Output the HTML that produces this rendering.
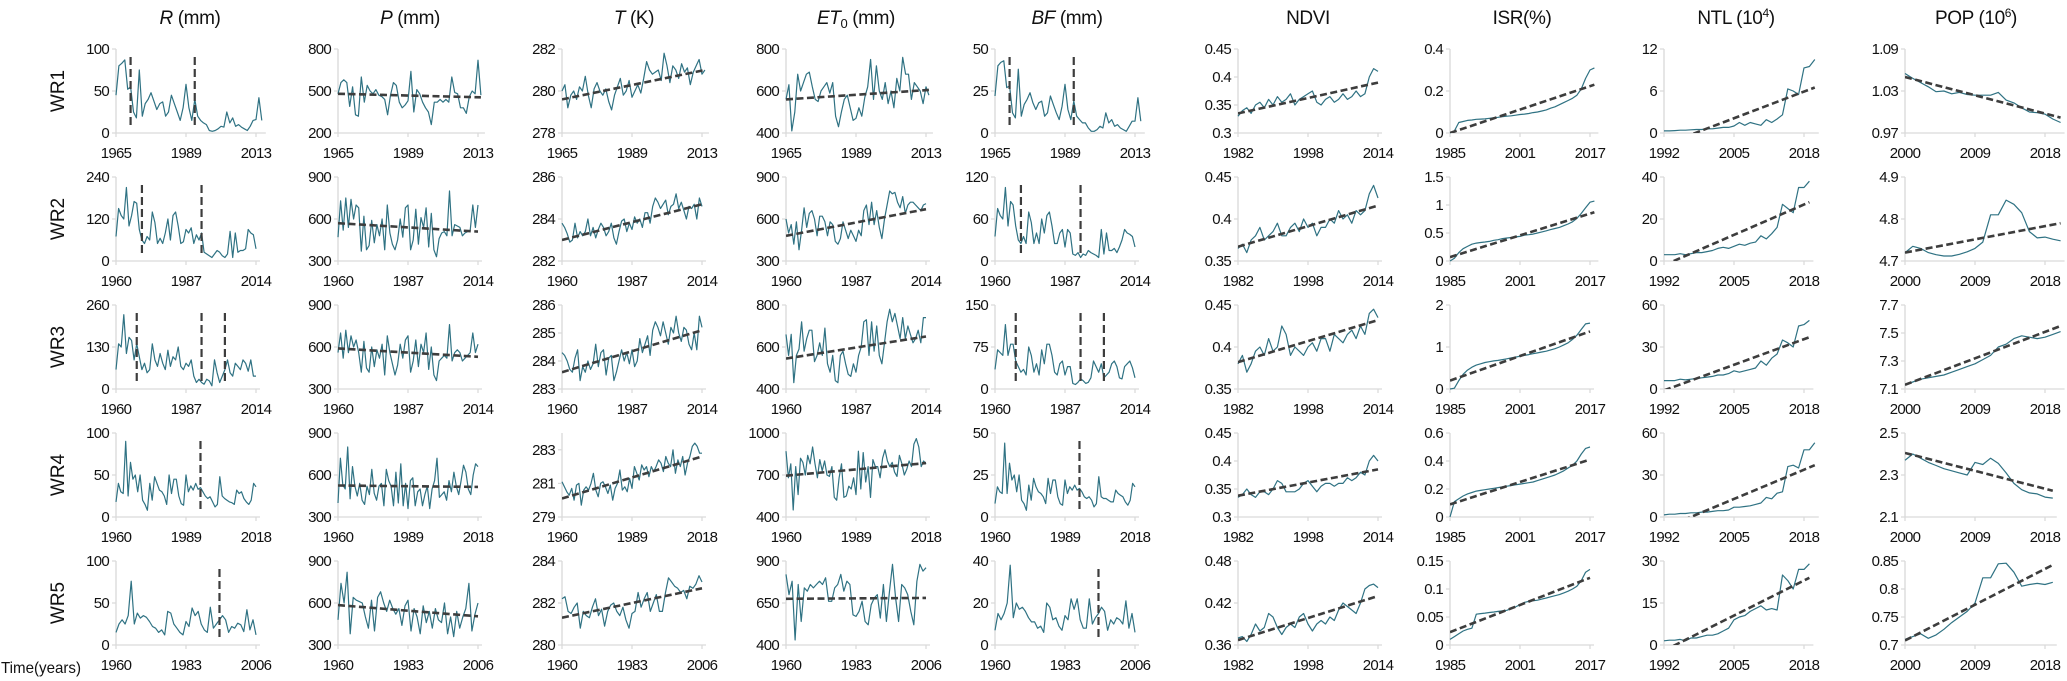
<!DOCTYPE html>
<html><head><meta charset="utf-8">
<style>
html,body{margin:0;padding:0;background:#fff;}
svg{display:block;font-family:"Liberation Sans Narrow","Liberation Sans",sans-serif;}
.tk{letter-spacing:-0.7px;}
</style></head>
<body>
<svg id="chart" width="2067" height="681" viewBox="0 0 2067 681" xmlns="http://www.w3.org/2000/svg">
<defs></defs>
<g id="titles" font-size="19" fill="#111" text-anchor="middle" style="letter-spacing:-0.4px">
<text x="190" y="24"><tspan font-style="italic">R</tspan> (mm)</text>
<text x="410" y="24"><tspan font-style="italic">P</tspan> (mm)</text>
<text x="634" y="24"><tspan font-style="italic">T</tspan> (K)</text>
<text x="856" y="24"><tspan font-style="italic">ET</tspan><tspan font-size="13" dy="4">0</tspan><tspan dy="-4"> (mm)</tspan></text>
<text x="1067" y="24"><tspan font-style="italic">BF</tspan> (mm)</text>
<text x="1308" y="24">NDVI</text>
<text x="1522" y="24">ISR(%)</text>
<text x="1736" y="24">NTL (10<tspan font-size="12" dy="-7">4</tspan><tspan dy="7">)</tspan></text>
<text x="1976" y="24">POP (10<tspan font-size="12" dy="-7">6</tspan><tspan dy="7">)</tspan></text>
</g>
<g font-size="19" fill="#111" text-anchor="middle">
<text transform="translate(64,91) rotate(-90)">WR1</text>
<text transform="translate(64,219) rotate(-90)">WR2</text>
<text transform="translate(64,347) rotate(-90)">WR3</text>
<text transform="translate(64,475) rotate(-90)">WR4</text>
<text transform="translate(64,603) rotate(-90)">WR5</text>
<text x="1" y="673" font-size="16" text-anchor="start" textLength="80" lengthAdjust="spacingAndGlyphs">Time(years)</text>
</g>
<g id="panels"></g>
</svg>
<script>
// ---------- data ----------
const R_WR1=[45,80,83,87,52,55,25,18,75,20,35,40,48,38,28,35,37,20,25,45,35,25,15,30,58,30,15,40,20,15,12,10,3,2,3,5,8,7,25,12,18,8,10,7,5,3,8,15,16,42,15];
const R_WR2=[70,150,130,120,210,100,130,170,165,90,60,50,70,60,140,110,50,65,50,80,120,60,130,140,100,50,55,90,80,95,50,75,60,80,25,20,15,10,20,30,25,15,10,20,85,10,80,25,30,30,35,90,80,75,35];
const R_WR3=[60,140,130,230,110,160,150,90,140,100,60,80,50,60,140,90,70,110,80,60,120,70,100,90,130,70,60,80,70,90,40,20,30,20,15,30,25,10,90,50,20,40,60,90,50,40,80,70,60,90,80,55,90,40,40];
const R_WR4=[18,40,30,28,90,25,65,45,50,30,50,20,15,8,40,20,48,40,32,30,25,15,50,28,45,45,25,16,14,50,30,37,32,40,33,35,30,25,22,24,18,12,15,48,25,22,20,18,17,15,32,28,30,22,18,15,20,40,36];
const R_WR5=[15,25,30,25,35,76,25,38,32,35,33,28,22,20,15,18,12,40,38,25,20,15,12,28,22,44,35,40,25,18,15,45,20,25,30,35,30,15,22,20,26,24,16,42,18,30,12];

const P_WR1=[480,560,580,560,390,530,330,320,600,420,540,500,480,510,470,460,440,330,470,560,540,420,380,400,430,640,350,510,480,420,380,350,260,420,420,440,420,440,420,600,490,480,380,380,340,460,500,480,720,470];
const P_WR2=[470,730,520,750,540,740,600,700,680,370,620,380,410,590,430,560,480,600,380,700,500,420,380,450,600,470,680,700,380,450,670,420,610,540,680,400,640,380,330,460,500,510,480,800,480,560,550,540,480,500,510,520,700,540,700];
const P_WR3=[560,700,520,720,560,680,600,650,560,420,640,450,420,600,460,580,520,620,400,680,560,480,400,470,620,520,650,680,420,500,650,460,620,560,700,440,600,400,360,500,520,540,520,760,500,560,580,560,500,520,540,560,700,560,620];
const P_WR4=[400,720,530,500,800,430,660,520,450,540,420,390,520,460,640,470,420,520,540,380,640,560,520,380,620,400,680,380,540,360,560,580,380,480,500,380,460,520,360,500,560,720,440,460,480,420,560,480,620,520,460,560,670,620,500,460,600,680,660];
const P_WR5=[480,740,600,820,380,640,620,610,600,500,420,620,400,640,680,600,540,620,560,520,560,440,580,620,400,560,500,380,580,460,540,420,560,480,460,600,380,500,360,540,420,500,560,740,400,520,600];

const T_WR1=[280.0,280.3,279.2,279.8,280.0,279.6,280.2,280.0,280.7,279.8,279.2,280.1,280.4,280.0,279.8,280.1,279.5,279.1,279.8,280.2,280.6,279.8,280.0,280.5,279.7,280.0,280.3,279.9,280.6,281.4,281.0,280.8,280.9,281.0,280.5,281.8,281.2,280.4,281.2,281.0,280.6,281.3,280.9,281.1,280.3,280.9,281.2,281.5,280.8,281.0];
const T_WR2=[283.8,283.6,283.3,282.9,283.0,283.8,283.1,283.4,283.2,283.4,284.0,283.2,283.6,283.1,283.5,283.8,283.6,283.2,283.4,283.8,283.1,282.8,283.4,283.9,284.0,283.4,283.8,283.5,284.1,283.8,284.0,283.6,284.3,284.3,283.8,284.6,285.0,284.8,284.5,284.7,284.9,284.2,284.6,284.7,285.2,284.5,284.8,284.4,284.0,284.6,284.5,284.7,284.0,285.0,284.6];
const T_WR3=[284.3,284.2,284.0,283.7,283.6,284.1,284.4,283.3,283.8,283.6,284.0,283.7,283.9,284.6,283.8,284.3,284.4,283.5,284.1,284.2,283.3,283.6,284.0,284.4,284.0,284.3,283.9,284.4,283.8,284.0,284.8,284.3,284.6,284.9,284.2,285.1,285.4,285.2,284.9,285.4,285.0,284.6,285.2,285.0,285.6,285.0,284.7,285.2,285.1,284.6,284.4,285.0,284.4,285.6,285.2];
const T_WR4=[281.1,280.8,280.5,280.3,280.7,280.0,280.9,281.0,279.7,280.6,280.8,280.6,281.0,281.6,280.6,280.2,281.0,281.1,280.8,280.4,280.9,280.0,280.7,281.0,281.8,280.6,280.8,280.5,281.3,280.7,282.0,281.6,281.2,282.1,281.8,282.0,281.4,282.0,281.7,282.0,282.4,282.2,281.7,282.6,282.2,282.0,283.0,281.6,282.4,282.0,282.6,281.5,282.2,282.6,283.2,283.4,283.2,282.8,282.8];
const T_WR5=[282.2,282.3,281.6,281.5,281.8,282.0,280.8,281.6,281.4,281.3,281.8,282.2,281.4,281.7,280.9,281.6,281.9,282.0,281.6,281.4,281.8,281.2,280.8,281.5,281.6,282.5,281.8,282.2,282.5,281.6,282.0,282.4,281.6,281.6,282.5,283.2,283.0,282.8,282.7,282.5,282.6,282.2,282.8,282.7,282.9,283.3,283.0];

const ET_WR1=[560,630,410,500,680,600,640,680,690,620,560,550,600,620,640,590,640,480,430,500,560,580,520,460,470,520,480,570,620,750,560,720,600,560,640,540,600,520,660,600,760,680,680,560,640,620,600,540,620,580];
const ET_WR2=[600,500,560,420,580,380,520,680,540,640,660,600,480,620,620,580,480,580,560,440,420,460,580,520,460,520,480,440,520,480,660,700,560,720,560,660,540,460,600,700,800,780,790,720,680,760,640,700,720,720,700,680,660,700,710];
const ET_WR3=[660,560,660,430,560,590,720,580,640,680,680,530,560,620,560,690,520,480,560,440,430,560,580,520,470,460,520,480,560,600,720,730,560,720,580,700,560,520,620,720,780,720,760,700,640,740,640,700,660,620,640,680,620,740,740];
const ET_WR4=[870,680,780,450,760,560,820,790,700,840,780,900,780,680,810,730,800,700,690,760,540,520,680,780,540,550,620,600,680,560,870,600,860,650,760,540,810,760,760,680,820,880,800,760,790,720,690,840,780,700,740,800,760,920,960,900,760,800,780];
const ET_WR5=[820,700,780,430,760,540,740,720,760,740,760,780,760,800,660,660,740,760,820,720,780,760,580,570,600,660,540,520,640,680,700,560,760,540,720,880,680,540,760,740,700,600,520,780,880,840,860];

const BF_WR1=[22,40,42,43,27,28,12,9,38,10,17,20,24,18,14,18,19,10,12,22,17,12,8,16,29,14,8,19,10,8,6,6,3,1,1,2,4,3,12,6,8,4,5,3,2,1,4,7,7,21,7];
const BF_WR2=[35,75,65,60,105,50,85,80,50,30,25,35,25,70,55,25,40,25,60,40,65,70,50,25,25,40,45,20,45,40,10,8,12,5,10,8,15,12,10,8,5,45,10,40,15,15,18,12,20,30,45,40,38,35,20];
const BF_WR3=[35,70,65,60,115,60,80,80,50,40,30,35,25,75,60,30,45,25,70,45,80,80,60,30,25,45,50,25,40,40,10,8,12,18,15,10,12,20,50,40,30,45,20,25,30,45,50,40,20,18,40,45,50,38,20];
const BF_WR4=[8,18,15,14,44,14,32,22,25,15,25,10,8,4,19,10,23,18,15,14,12,8,23,14,22,22,12,8,7,22,14,18,16,19,16,17,15,12,11,12,10,6,8,24,12,11,11,10,9,9,16,14,13,12,9,7,10,20,18];
const BF_WR5=[7,15,12,15,20,38,13,20,17,18,16,13,11,11,8,9,6,20,18,12,13,9,7,14,12,22,17,22,12,8,8,22,10,13,15,18,16,7,12,10,13,12,10,21,8,15,6];

const NDVI_WR1=[0.33,0.34,0.345,0.335,0.35,0.355,0.345,0.36,0.35,0.365,0.355,0.36,0.37,0.35,0.36,0.365,0.37,0.375,0.355,0.35,0.36,0.365,0.355,0.36,0.37,0.36,0.365,0.375,0.365,0.37,0.4,0.415,0.41];
const NDVI_WR2=[0.365,0.37,0.36,0.375,0.38,0.39,0.375,0.38,0.385,0.395,0.38,0.38,0.39,0.395,0.385,0.4,0.39,0.395,0.38,0.39,0.39,0.4,0.395,0.41,0.4,0.405,0.395,0.41,0.405,0.41,0.43,0.44,0.425];
const NDVI_WR3=[0.38,0.39,0.37,0.38,0.395,0.4,0.39,0.41,0.395,0.4,0.425,0.415,0.39,0.4,0.395,0.39,0.4,0.405,0.395,0.41,0.41,0.395,0.415,0.41,0.405,0.415,0.42,0.41,0.425,0.415,0.44,0.445,0.435];
const NDVI_WR4=[0.335,0.34,0.35,0.34,0.335,0.345,0.345,0.34,0.35,0.365,0.36,0.345,0.345,0.345,0.35,0.36,0.365,0.355,0.345,0.355,0.36,0.36,0.355,0.36,0.36,0.37,0.365,0.37,0.38,0.375,0.4,0.41,0.4];
const NDVI_WR5=[0.37,0.372,0.365,0.375,0.39,0.38,0.385,0.405,0.4,0.385,0.375,0.385,0.39,0.385,0.4,0.405,0.39,0.38,0.39,0.395,0.39,0.4,0.395,0.41,0.42,0.415,0.41,0.405,0.42,0.44,0.445,0.447,0.442];

const ISR_WR1=[0,0.01,0.05,0.055,0.06,0.062,0.065,0.066,0.067,0.07,0.073,0.075,0.078,0.08,0.082,0.085,0.088,0.09,0.093,0.097,0.1,0.105,0.11,0.118,0.125,0.135,0.145,0.155,0.165,0.18,0.21,0.26,0.3,0.31];
const ISR_WR2=[0,0.05,0.15,0.22,0.26,0.3,0.32,0.33,0.34,0.35,0.37,0.38,0.4,0.41,0.42,0.43,0.44,0.46,0.47,0.48,0.5,0.52,0.54,0.56,0.58,0.6,0.63,0.66,0.7,0.76,0.85,0.95,1.05,1.07];
const ISR_WR3=[0,0.02,0.2,0.35,0.45,0.52,0.57,0.6,0.63,0.65,0.67,0.68,0.7,0.72,0.74,0.76,0.78,0.8,0.82,0.84,0.86,0.88,0.9,0.93,0.96,1.0,1.05,1.1,1.18,1.28,1.42,1.55,1.57];
const ISR_WR4=[0,0.11,0.13,0.15,0.165,0.175,0.185,0.19,0.195,0.2,0.205,0.21,0.215,0.22,0.225,0.23,0.235,0.24,0.245,0.25,0.26,0.27,0.28,0.29,0.3,0.315,0.33,0.35,0.37,0.4,0.45,0.49,0.5];
const ISR_WR5=[0.01,0.015,0.02,0.025,0.028,0.03,0.055,0.056,0.057,0.058,0.059,0.06,0.061,0.062,0.065,0.068,0.072,0.076,0.078,0.079,0.08,0.082,0.084,0.086,0.088,0.09,0.093,0.096,0.1,0.105,0.115,0.13,0.135];

const NTL_WR1=[0.3,0.3,0.35,0.4,0.4,0.45,0.5,0.5,0.6,0.6,0.7,0.8,0.8,1.0,1.5,1.1,1.5,1.3,1.1,1.9,1.5,2.0,2.6,6.3,6.0,5.5,9.3,9.5,10.5];
const NTL_WR2=[3,3,3,3.5,3,3.5,4,4,4.5,5,6,6.5,6,7,8,7.5,8.5,9,12,10.5,13,16,27,25,23,35,35,38];
const NTL_WR3=[6,6,6,7,6.5,7,7.5,8,8.5,9,10,10,11,13,12,13,14,15,20,17,22,25,35,33,30,45,46,49];
const NTL_WR4=[1.5,2,2,2.5,2.5,3,3,3.5,3.5,4,4.5,4.5,5,7,7,7.5,8,9,10,14,13,17,18,36,37,35,48,48,53];
const NTL_WR5=[1.5,1.7,1.7,2,1.5,2.5,2.5,3,3.5,3.5,4,5,6,9,10,10.5,12,13,14,12.5,13,12.5,25,23,20,27,27,29];

const POP_WR1=[1.055,1.048,1.042,1.036,1.029,1.03,1.026,1.028,1.025,1.024,1.024,1.024,1.028,1.017,1.013,1.006,1.0,0.999,0.997,0.99,0.985];
const POP_WR2=[4.72,4.735,4.73,4.72,4.715,4.712,4.712,4.716,4.722,4.73,4.745,4.81,4.81,4.845,4.835,4.815,4.77,4.755,4.757,4.752,4.748];
const POP_WR3=[7.13,7.15,7.17,7.18,7.19,7.2,7.22,7.24,7.26,7.28,7.31,7.34,7.4,7.42,7.46,7.48,7.47,7.46,7.47,7.49,7.51];
const POP_WR4=[2.37,2.4,2.38,2.36,2.345,2.33,2.32,2.31,2.3,2.36,2.35,2.38,2.355,2.31,2.26,2.23,2.215,2.21,2.195,2.19];
const POP_WR5=[0.71,0.715,0.72,0.712,0.718,0.728,0.74,0.75,0.76,0.775,0.82,0.82,0.845,0.846,0.83,0.805,0.808,0.81,0.808,0.812];

// axis ticks per row
const climateXTicks=[[1965,1989,2013],[1960,1987,2014],[1960,1987,2014],[1960,1989,2018],[1960,1983,2006]];
const ndviXTicks=[1982,1998,2014];
const isrXTicks=[1985,2001,2017];
const ntlXTicks=[1992,2005,2018];
const popXTicks=[2000,2009,2018];

const yTicks_R=[[0,50,100],[0,120,240],[0,130,260],[0,50,100],[0,50,100]];
const yTicks_P=[[200,500,800],[300,600,900],[300,600,900],[300,600,900],[300,600,900]];
const yTicks_T=[[278,280,282],[282,284,286],[283,284,285,286],[279,281,283],[280,282,284]];
const yTicks_ET=[[400,600,800],[300,600,900],[400,600,800],[400,700,1000],[400,650,900]];
const yTicks_BF=[[0,25,50],[0,60,120],[0,75,150],[0,25,50],[0,20,40]];
const yTicks_NDVI=[[0.3,0.35,0.4,0.45],[0.35,0.4,0.45],[0.35,0.4,0.45],[0.3,0.35,0.4,0.45],[0.36,0.42,0.48]];
const yTicks_ISR=[[0,0.2,0.4],[0,0.5,1,1.5],[0,1,2],[0,0.2,0.4,0.6],[0,0.05,0.1,0.15]];
const yTicks_NTL=[[0,6,12],[0,20,40],[0,30,60],[0,30,60],[0,15,30]];
const yTicks_POP=[[0.97,1.03,1.09],[4.7,4.8,4.9],[7.1,7.3,7.5,7.7],[2.1,2.3,2.5],[0.7,0.75,0.8,0.85]];
const yTopOverride_T=[null,null,null,284,null];

// trend lines: [value at first year, value at last year]
const trend_P=[[480,455],[570,510],[590,530],[525,515],[585,505]];
const trend_T=[[279.6,281.0],[283.0,284.7],[283.6,285.1],[280.1,282.6],[281.3,282.7]];
const trend_ET=[[560,605],[480,670],[545,650],[695,785],[675,680]];
const trend_NDVI=[[0.335,0.39],[0.367,0.416],[0.382,0.432],[0.338,0.385],[0.367,0.43]];
const trend_ISR=[[0,0.23],[0.07,0.87],[0.2,1.37],[0.09,0.41],[0.023,0.12]];
const trend_NTL=[[-1.7,6.5],[-2,28],[-1,37],[-8,37],[-2,24]];
const trend_POP=[[1.05,0.992],[4.72,4.79],[7.13,7.55],[2.405,2.225],[0.708,0.843]];

// change points (years)
const cp_R=[[1970,1992],[1970,1993],[1968,1993,2002],[1995],[1994]];
const cp_BF=[[1970,1992],[1970,1993],[1968,1993,2002],[1995],[1994]];

// ---------- layout ----------
const colX=[116,338,562,786,995,1238,1450,1664,1905];
const rowTop=[49,177,305,433,561];
const PH=84, TICKW=140;
const NS="http://www.w3.org/2000/svg";
const root=document.getElementById('panels');
function el(tag,attrs,parent){const e=document.createElementNS(NS,tag);for(const k in attrs)e.setAttribute(k,attrs[k]);(parent||root).appendChild(e);return e;}

const cols=[
 {key:'r',data:[R_WR1,R_WR2,R_WR3,R_WR4,R_WR5],yt:yTicks_R,cp:cp_R,clim:true},
 {key:'p',data:[P_WR1,P_WR2,P_WR3,P_WR4,P_WR5],yt:yTicks_P,tr:trend_P,clim:true},
 {key:'t',data:[T_WR1,T_WR2,T_WR3,T_WR4,T_WR5],yt:yTicks_T,tr:trend_T,clim:true,top:yTopOverride_T},
 {key:'et0',data:[ET_WR1,ET_WR2,ET_WR3,ET_WR4,ET_WR5],yt:yTicks_ET,tr:trend_ET,clim:true},
 {key:'bf',data:[BF_WR1,BF_WR2,BF_WR3,BF_WR4,BF_WR5],yt:yTicks_BF,cp:cp_BF,clim:true},
 {key:'ndvi',data:[NDVI_WR1,NDVI_WR2,NDVI_WR3,NDVI_WR4,NDVI_WR5],yt:yTicks_NDVI,tr:trend_NDVI,xt:ndviXTicks},
 {key:'isr',data:[ISR_WR1,ISR_WR2,ISR_WR3,ISR_WR4,ISR_WR5],yt:yTicks_ISR,tr:trend_ISR,xt:isrXTicks},
 {key:'ntl',data:[NTL_WR1,NTL_WR2,NTL_WR3,NTL_WR4,NTL_WR5],yt:yTicks_NTL,tr:trend_NTL,xt:ntlXTicks},
 {key:'pop',data:[POP_WR1,POP_WR2,POP_WR3,POP_WR4,POP_WR5],yt:yTicks_POP,tr:trend_POP,xt:popXTicks}
];
const defs=document.querySelector('defs');
cols.forEach((c,ci)=>{
 for(let ri=0;ri<5;ri++){
  const ax=colX[ci], top=rowTop[ri], bot=top+PH;
  const xt=c.clim?climateXTicks[ri]:c.xt;
  const yt=c.yt[ri];
  const ymin=yt[0];
  const ymax=(c.top&&c.top[ri]!=null)?c.top[ri]:yt[yt.length-1];
  const x=v=>ax+(v-xt[0])/(xt[2]-xt[0])*TICKW;
  const y=v=>bot-(v-ymin)/(ymax-ymin)*PH;
  const g=el('g',{});
  
  
  const vals=c.data[ri];
  const endX=Math.max(x(xt[0]+vals.length-1),ax+TICKW)+4;
  const ya=el('line',{x1:ax,y1:top,x2:ax,y2:bot,stroke:'#d9d9d9','stroke-width':1.3},g);
  
  
  const xa=el('line',{x1:ax,y1:bot,x2:endX,y2:bot,stroke:'#d9d9d9','stroke-width':1.3},g);
  
  
  yt.forEach(v=>{
   el('line',{x1:ax-4,y1:y(v),x2:ax,y2:y(v),stroke:'#d9d9d9','stroke-width':1.2},g);
   const t=el('text',{x:ax-7,y:y(v)+5,'text-anchor':'end','font-size':15,fill:'#111',class:'tk'},g);
   t.textContent=String(v);
   
   
  });
  xt.forEach(v=>{
   el('line',{x1:x(v),y1:bot,x2:x(v),y2:bot+4,stroke:'#d9d9d9','stroke-width':1.2},g);
   const t=el('text',{x:x(v),y:bot+25,'text-anchor':'middle','font-size':15,fill:'#111',class:'tk'},g);
   t.textContent=String(v);
   
   
  });
  const pts=vals.map((v,i)=>x(xt[0]+i).toFixed(1)+','+y(v).toFixed(1)).join(' ');
  const pl=el('polyline',{points:pts,fill:'none',stroke:'#2f7283','stroke-width':1.2,'stroke-linejoin':'round'},g);
  
  
  if(c.tr){
   const cid='clip-'+c.key+ri;
   const cp=el('clipPath',{id:cid},defs);
   el('rect',{x:ax,y:top-2,width:endX-ax,height:PH+2},cp);
   const tr=c.tr[ri];
   const tl=el('line',{x1:x(xt[0]),y1:y(tr[0]),x2:x(xt[0]+vals.length-1),y2:y(tr[1]),stroke:'#3d3d3d','stroke-width':2.6,'stroke-dasharray':'7,3.5','clip-path':'url(#'+cid+')'},g);
   
   
  }
  if(c.cp){
   c.cp[ri].forEach(yr=>{
    const l=el('line',{x1:x(yr),y1:top+8,x2:x(yr),y2:bot-6,stroke:'#3d3d3d','stroke-width':2.2,'stroke-dasharray':'8,4'},g);
    
    
   });
  }
 }
});
</script>
</body></html>
